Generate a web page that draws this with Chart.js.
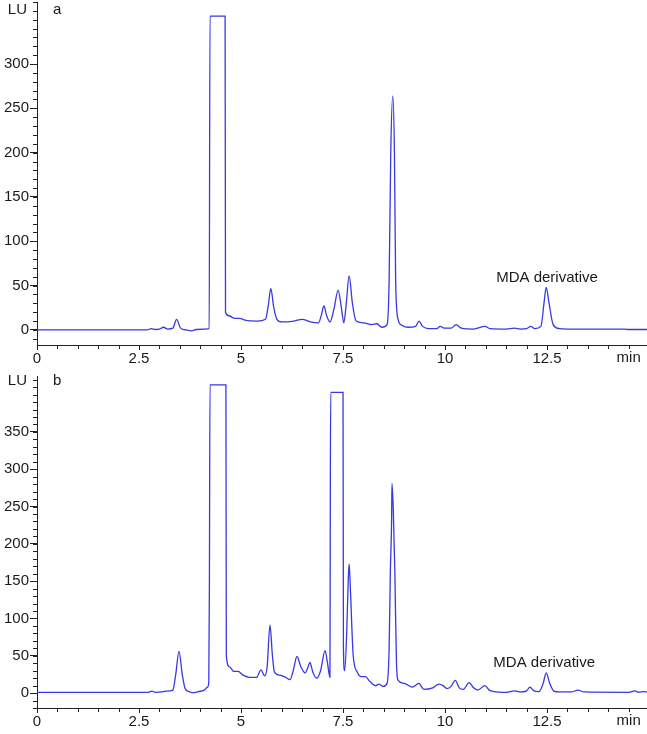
<!DOCTYPE html>
<html>
<head>
<meta charset="utf-8">
<script src="https://cdn.jsdelivr.net/npm/chart.js@4/dist/chart.umd.min.js"></script>
<style>
  html, body { margin: 0; padding: 0; background: #fff; }
  #wrap { position: relative; width: 647px; height: 734px; }
  canvas { position: absolute; left: 0; }
  #chartA { top: 0; }
  #chartB { top: 368px; }
</style>
</head>
<body>
<div id="wrap">
  <canvas id="chartA" width="647" height="368"></canvas>
  <canvas id="chartB" width="647" height="366"></canvas>
</div>
<script>
// retention time (min) and fluorescence (LU), panel a
const timeA = [0, 2.7, 2.8, 2.9, 3.0, 3.1, 3.2, 3.33, 3.42, 3.52, 3.65, 3.78, 3.9, 4.1, 4.22, 4.24, 4.61, 4.62,
  4.7, 4.85, 4.97, 5.1, 5.4, 5.6, 5.67, 5.73, 5.8, 5.88, 6.0, 6.3, 6.5, 6.7, 6.9, 6.97, 7.03, 7.1, 7.18,
  7.28, 7.38, 7.46, 7.52, 7.58, 7.65, 7.73, 7.82, 8.0, 8.2, 8.33, 8.45, 8.58, 8.63, 8.67, 8.72, 8.76, 8.79,
  8.85, 8.95, 9.1, 9.28, 9.36, 9.45, 9.6, 9.8, 9.88, 9.98, 10.15, 10.27, 10.4, 10.7, 10.98, 11.1, 11.5,
  11.7, 11.85, 12.0, 12.1, 12.2, 12.35, 12.43, 12.48, 12.55, 12.65, 12.8, 13.0, 14.4, 14.5, 14.95];
const lumA = [0, 0, 1.5, 0.5, 1, 3, 1, 2, 12, 2, 0, -1, 0.5, 1, 1.5, 354, 354, 20,
  16, 13, 13, 11, 10, 12, 28, 47, 26, 12, 9, 10, 12, 9, 8, 17, 27, 16, 9,
  24, 45, 25, 8, 30, 61, 30, 10, 8, 6, 7, 3, 6, 55, 200, 264, 200, 55,
  12, 5, 3, 4, 10, 4, 1.5, 1.5, 4, 2, 2, 6, 2, 1, 4, 1.5, 1,
  2, 1, 1.5, 4, 1.5, 4, 32, 48, 30, 6, 1.5, 1, 1, 0.5, 0.5];

// panel b
const timeB = [0, 2.7, 2.82, 2.9, 3.05, 3.15, 3.25, 3.33, 3.4, 3.48, 3.56, 3.63, 3.73, 3.83, 3.95, 4.1, 4.18,
  4.21, 4.225, 4.24, 4.63, 4.64, 4.72, 4.82, 4.93, 5.05, 5.2, 5.38, 5.49, 5.58, 5.64, 5.71, 5.77, 5.82,
  5.95, 6.1, 6.2, 6.28, 6.37, 6.47, 6.57, 6.63, 6.69, 6.76, 6.86, 6.95, 7.06, 7.12, 7.18, 7.19, 7.2,
  7.5, 7.51, 7.54, 7.59, 7.63, 7.65, 7.68, 7.75, 7.85, 7.95, 8.05, 8.15, 8.3, 8.38, 8.48, 8.58, 8.63,
  8.66, 8.69, 8.7, 8.73, 8.77, 8.81, 8.85, 9.0, 9.2, 9.36, 9.48, 9.7, 9.85, 9.95, 10.05, 10.15, 10.25,
  10.35, 10.45, 10.59, 10.7, 10.8, 10.98, 11.08, 11.2, 11.5, 11.7, 11.85, 12.0, 12.08, 12.18, 12.3, 12.4,
  12.48, 12.56, 12.66, 12.8, 13.1, 13.26, 13.4, 14.5, 14.65, 14.75, 14.85, 14.95];
const lumB = [1, 1, 2.5, 1, 1.5, 2.5, 3, 4, 25, 56, 25, 6, 2, 0.5, 2, 4, 8,
  14, 143, 413, 413, 50, 35, 29, 29, 24, 21, 21, 31, 23, 35, 91, 50, 28,
  24, 21, 18, 30, 49, 35, 27, 33, 41, 28, 20, 30, 57, 40, 21, 300, 403,
  403, 60, 30, 80, 155, 173, 140, 50, 28, 22, 22, 16, 10, 12, 9, 13, 60,
  163, 229, 281, 249, 163, 40, 17, 13, 8, 13, 5, 7, 12, 10, 6, 9, 17,
  7, 5, 14, 7, 4, 10, 4, 2, 1, 3, 1.5, 3, 8, 3, 2, 12,
  27, 14, 3, 1.5, 1.5, 4, 1.5, 1, 3, 1, 2, 1.5];

const xTicks = [0, 2.5, 5, 7.5, 10, 12.5];
const yTicksA = [0, 50, 100, 150, 200, 250, 300];
const yTicksB = [0, 50, 100, 150, 200, 250, 300, 350];

const lineColor = '#3838e4';
const axisColor = '#222';
const font = { family: 'Liberation Sans, Arial, sans-serif', size: 15 };

// minor ticks, axis titles, panel letter and peak label
const extras = {
  id: 'extras',
  afterDraw(chart, args, opts) {
    const ctx = chart.ctx;
    const x = chart.scales.x, y = chart.scales.y;
    ctx.save();
    ctx.strokeStyle = axisColor;
    ctx.lineWidth = 1;
    ctx.beginPath();
    for (let v = 0; v <= x.max; v += 0.5) {
      const px = Math.round(x.getPixelForValue(v)) + 0.5;
      ctx.moveTo(px, x.top);
      ctx.lineTo(px, x.top + 4);
    }
    for (let v = 10 * Math.ceil(y.min / 10); v <= y.max; v += 10) {
      const py = Math.round(y.getPixelForValue(v)) + 0.5;
      ctx.moveTo(y.right - 4, py);
      ctx.lineTo(y.right, py);
    }
    ctx.stroke();

    ctx.fillStyle = '#1a1a1a';
    ctx.font = font.size + 'px ' + font.family;
    ctx.textBaseline = 'middle';
    ctx.textAlign = 'right';
    ctx.fillText('LU', 27, opts.luY);
    ctx.textAlign = 'left';
    ctx.fillText(opts.panel, 53, opts.luY);
    ctx.textAlign = 'center';
    ctx.textBaseline = 'top';
    ctx.fillText('min', x.getPixelForValue(14.5), x.top + 5);
    ctx.textBaseline = 'middle';
    ctx.fillText('MDA derivative', x.getPixelForValue(opts.note[0]), y.getPixelForValue(opts.note[1]));
    ctx.restore();
  }
};

function makeChart(id, times, lum, yMin, yMax, yTicks, padTop, axisH, extraOpts) {
  const pts = times.map((t, i) => ({ x: t, y: lum[i] }));
  return new Chart(document.getElementById(id), {
    type: 'line',
    data: {
      datasets: [{
        data: pts,
        borderColor: lineColor,
        borderWidth: 1.3,
        pointRadius: 0,
        cubicInterpolationMode: 'monotone',
        fill: false
      }]
    },
    options: {
      responsive: false,
      animation: false,
      devicePixelRatio: 1,
      layout: { padding: { top: padTop, left: 0, right: 0, bottom: 0 } },
      plugins: {
        legend: { display: false },
        tooltip: { enabled: false },
        extras: extraOpts
      },
      scales: {
        x: {
          type: 'linear',
          min: 0,
          max: 14.95,
          afterBuildTicks: s => { s.ticks = xTicks.map(v => ({ value: v })); },
          afterFit: s => { s.height = axisH; s.paddingLeft = 0; s.paddingRight = 0; },
          border: { color: axisColor, width: 1 },
          grid: { drawOnChartArea: false, tickLength: 5, tickColor: axisColor },
          ticks: { color: '#1a1a1a', font: font, padding: 0, maxRotation: 0, callback: v => String(v) }
        },
        y: {
          min: yMin,
          max: yMax,
          afterBuildTicks: s => { s.ticks = yTicks.map(v => ({ value: v })); },
          afterFit: s => { s.width = 37; s.paddingTop = 0; s.paddingBottom = 0; },
          border: { color: axisColor, width: 1 },
          grid: { drawOnChartArea: false, tickLength: 7, tickColor: axisColor },
          ticks: { color: '#1a1a1a', font: font, padding: 1, callback: v => String(v) }
        }
      }
    },
    plugins: [extras]
  });
}

makeChart('chartA', timeA, lumA, -17, 370, yTicksA, 2, 23, { panel: 'a', luY: 10, note: [12.5, 59] });
makeChart('chartB', timeB, lumB, -20, 425, yTicksB, 8, 26, { panel: 'b', luY: 13, note: [12.43, 41] });
</script>
</body>
</html>
